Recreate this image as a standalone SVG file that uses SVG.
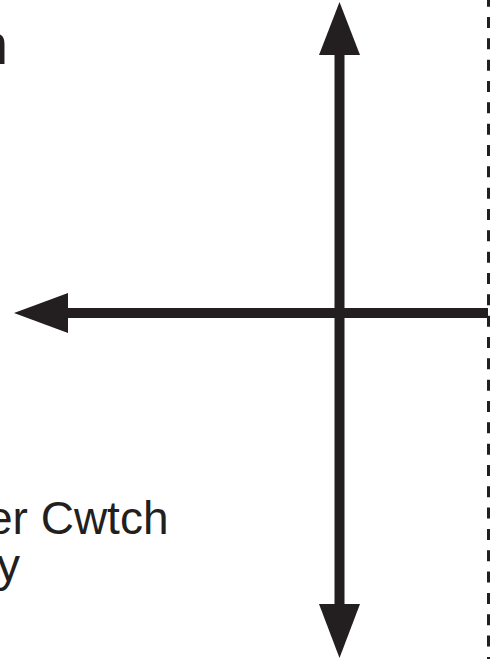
<svg xmlns="http://www.w3.org/2000/svg" width="502" height="659" viewBox="0 0 502 659">
<style>
.lbl{font-family:"Liberation Sans",Arial,sans-serif;fill:#231f20}
.stem{stroke:#231f20;stroke-width:10;fill:none}
.head{fill:#231f20}
.dash{stroke:#231f20;stroke-width:3;stroke-dasharray:11 10.33;fill:none}
</style>
<rect width="502" height="659" fill="#ffffff"/>
<g id="label-top"><text class="lbl" x="-24" y="64" font-size="58">n</text></g>
<g id="label-bottom"><text class="lbl" x="-13" y="534" font-size="46">er Cwtch</text><text class="lbl" x="-3" y="581" font-size="46">y</text></g>
<g id="boundary"><line class="dash" x1="488.5" y1="-4.3" x2="488.5" y2="659"/></g>
<g id="connectors">
<line class="stem" x1="339.5" y1="54" x2="339.5" y2="605"/>
<polygon class="head" points="339.5,2 319,55 360,55"/>
<polygon class="head" points="339.5,658 319,604 360,604"/>
<line class="stem" x1="67" y1="313" x2="488" y2="313"/>
<polygon class="head" points="14,313 68,293 68,333"/>
</g>
</svg>
